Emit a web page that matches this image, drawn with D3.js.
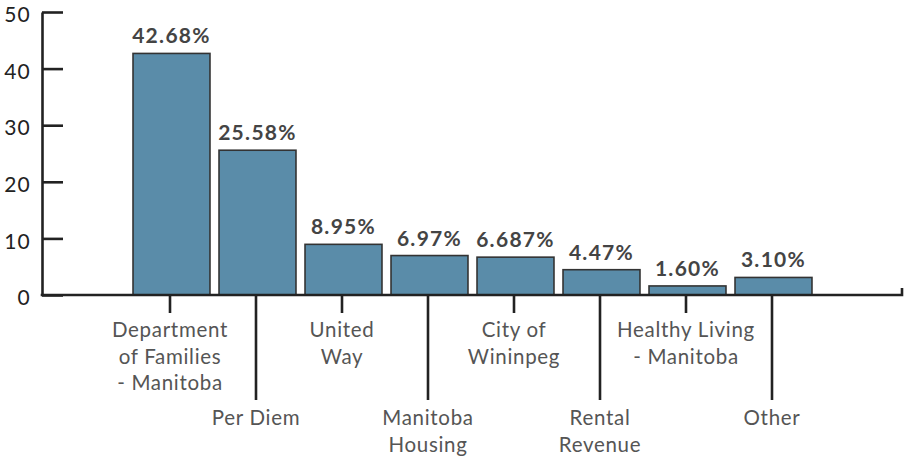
<!DOCTYPE html>
<html>
<head>
<meta charset="utf-8">
<script src="https://cdn.jsdelivr.net/npm/d3@7"></script>
<style>
  body { margin: 0; background: #fff; }
  svg text { font-family: Lato, "Open Sans", sans-serif; }
</style>
</head>
<body>
<div id="chart"></div>
<script>
// funding sources, in chart order
const categories = [
    ["Department", "of Families", "- Manitoba"],
    ["Per Diem"],
    ["United", "Way"],
    ["Manitoba", "Housing"],
    ["City of", "Wininpeg"],
    ["Rental", "Revenue"],
    ["Healthy Living", "- Manitoba"],
    ["Other"]
];
const values = [42.68, 25.58, 8.95, 6.97, 6.687, 4.47, 1.60, 3.10];
const valueLabels = ["42.68%", "25.58%", "8.95%", "6.97%", "6.687%", "4.47%", "1.60%", "3.10%"];
const yTicks = [0, 10, 20, 30, 40, 50];

const width = 907, height = 459;
const axisX = 42, baseY = 295, topY = 12;

const svg = d3.select("#chart")
    .append("svg")
    .attr("width", width)
    .attr("height", height);

const x = d3.scaleBand()
    .domain(d3.range(values.length))
    .range([128.5, 816.5])
    .paddingInner(0.105)
    .paddingOuter(0.0525);

const y = d3.scaleLinear()
    .domain([0, 50])
    .range([baseY, topY]);

// bars
svg.append("g")
    .selectAll("rect")
    .data(values)
    .enter()
    .append("rect")
    .attr("x", (d, i) => x(i))
    .attr("y", d => y(d))
    .attr("width", x.bandwidth())
    .attr("height", d => y(0) - y(d))
    .attr("fill", "#5a8ca9")
    .attr("stroke", "#333")
    .attr("stroke-width", 1.6);

// value labels
svg.append("g")
    .selectAll("text")
    .data(values)
    .enter()
    .append("text")
    .attr("x", (d, i) => x(i) + x.bandwidth() / 2)
    .attr("y", d => y(d) - 10)
    .attr("text-anchor", "middle")
    .attr("font-size", 21)
    .attr("font-weight", "bold")
    .attr("letter-spacing", 1.3)
    .attr("fill", "#444")
    .text((d, i) => valueLabels[i]);

// y axis
const yAxis = svg.append("g")
    .attr("transform", `translate(${axisX},0)`)
    .call(d3.axisLeft(y).tickValues(yTicks).tickSizeInner(-21).tickSizeOuter(0).tickPadding(11));
yAxis.select(".domain").attr("stroke", "#222").attr("stroke-width", 2.6);
yAxis.selectAll(".tick line").attr("stroke", "#222").attr("stroke-width", 2.6);
yAxis.selectAll(".tick text")
    .attr("font-size", 21)
    .attr("dy", "0.46em")
    .attr("font-family", "Lato, sans-serif")
    .attr("letter-spacing", 1.2)
    .attr("fill", "#222");

// x baseline with small end tick
svg.append("path")
    .attr("d", `M${axisX - 1.3},${baseY}H902V288`)
    .attr("fill", "none")
    .attr("stroke", "#222")
    .attr("stroke-width", 2.6);

// category ticks, alternating short / long
const catG = svg.append("g")
    .selectAll("g")
    .data(categories)
    .enter()
    .append("g")
    .attr("transform", (d, i) => `translate(${x(i) + x.bandwidth() / 2 - 1.5},0)`);

catG.append("line")
    .attr("y1", baseY)
    .attr("y2", (d, i) => i % 2 ? 400 : 313)
    .attr("stroke", "#222")
    .attr("stroke-width", 2.6);

catG.append("text")
    .attr("text-anchor", "middle")
    .attr("font-size", 20.5)
    .attr("fill", "#555")
    .attr("letter-spacing", 0.7)
    .each(function (d, i) {
        const startY = i % 2 ? 425 : 337;
        d3.select(this).selectAll("tspan")
            .data(d)
            .enter()
            .append("tspan")
            .attr("x", 0)
            .attr("y", (t, j) => startY + j * 26.5)
            .text(t => t);
    });
</script>
</body>
</html>
